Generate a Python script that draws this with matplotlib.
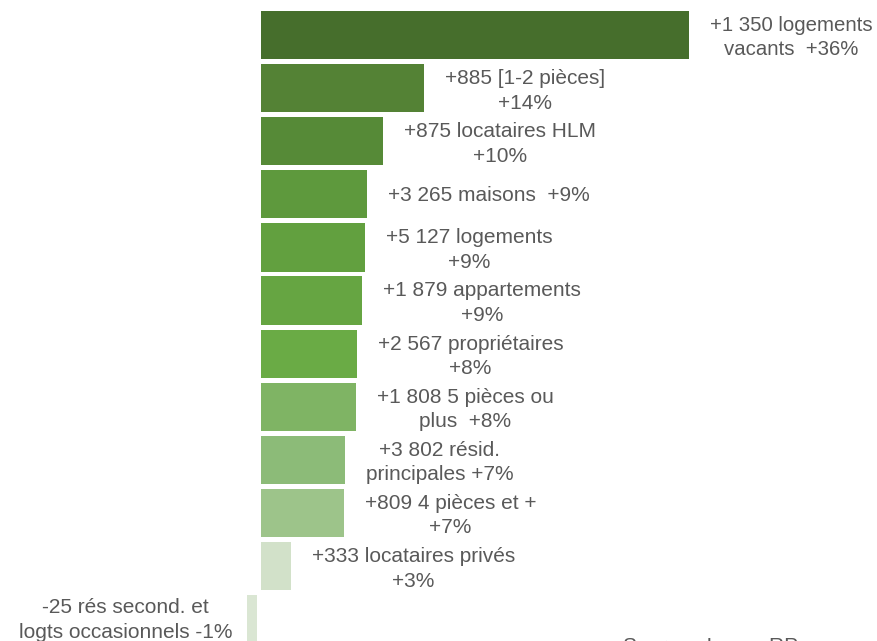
import matplotlib
matplotlib.use("Agg")
import matplotlib.pyplot as plt

labels = [
    "+1 350 logements\nvacants  +36%",
    "+885 [1-2 pièces]\n+14%",
    "+875 locataires HLM\n+10%",
    "+3 265 maisons  +9%",
    "+5 127 logements\n+9%",
    "+1 879 appartements\n+9%",
    "+2 567 propriétaires\n+8%",
    "+1 808 5 pièces ou\nplus  +8%",
    "+3 802 résid.\nprincipales +7%",
    "+809 4 pièces et +\n+7%",
    "+333 locataires privés\n+3%",
    "-25 rés second. et\nlogts occasionnels -1%",
]
values = [36.0, 13.7, 10.3, 8.9, 8.75, 8.5, 8.07, 8.0, 7.06, 6.98, 2.52, -1.2]
colors = ["#466e2c", "#548235", "#568a37", "#5e993d", "#62a03f", "#66a542",
          "#6aab45", "#7fb464", "#8cbb78", "#9dc48a", "#d2e1c9", "#dae6d3"]
source = "Source : Insee, RP"

fig = plt.figure(figsize=(8.78, 6.41), dpi=100)
ax = fig.add_axes([0, 0, 1, 1])
ax.set_xlim(-21.95, 51.9)
ax.set_ylim(11.41, -0.659)
ax.axis("off")

LS = 1.37
neg_gap = 0.33
for i, (v, c, lab) in enumerate(zip(values, colors, labels)):
    fs = 14.7 if i == 0 else 15
    if v >= 0:
        dy = 0.05 if "\n" in lab else 0.02
        ax.barh(i, v, height=0.91, color=c, edgecolor="none")
        ax.text(v + 1.75, i + dy, lab, ha="left", va="center", multialignment="center",
                fontsize=fs, color="#595959", family="Liberation Sans", linespacing=LS)
    else:
        ax.barh(i, v + neg_gap, left=-neg_gap, height=0.91, color=c, edgecolor="none")
        ax.text(v - 1.2, i + 0.01, lab, ha="right", va="center", multialignment="center",
                fontsize=fs, color="#595959", family="Liberation Sans", linespacing=LS)

fig.text(623 / 878, 1 - 637 / 641, source, ha="left", va="top", fontsize=15,
         color="#595959", family="Liberation Sans")

fig.savefig("out.png", dpi=100)
